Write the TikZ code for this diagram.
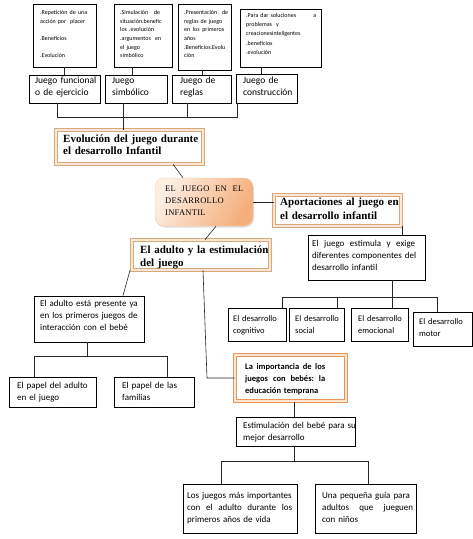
\documentclass[tikz,border=0pt]{standalone}
\usepackage{fontspec}
\setmainfont{Carlito}
\newfontfamily\serifb{Liberation Serif}
\newfontfamily\serifsp[LetterSpace=3]{Liberation Serif}
\usetikzlibrary{shadows}
\definecolor{tanc}{RGB}{214,168,122}
\definecolor{band}{RGB}{251,231,211}
\definecolor{orng}{RGB}{226,150,92}
\definecolor{ctop}{RGB}{253,238,226}
\definecolor{cbot}{RGB}{245,174,124}
\newcommand\jus[2]{\leavevmode\hbox to #1pt{#2}}
\begin{document}
\begin{tikzpicture}[x=1pt,y=-1pt,
  box/.style={draw=black, line width=0.7pt, fill=white, inner sep=0pt, rectangle},
  tbox/.style={draw=tanc, double=band, double distance=2.4pt, line width=0.6pt, fill=white, inner sep=0pt, rectangle},
  ibox/.style={draw=orng, double=band, double distance=2pt, line width=1pt, fill=white, inner sep=0pt, rectangle},
  conn/.style={draw=black!85, line width=0.6pt},
  txt/.style={inner sep=0pt, anchor=north west, align=left},
  smalltxt/.style={txt, font=\fontsize{6}{8.7}\selectfont},
  midtxt/.style={txt, font=\fontsize{9.5}{12}\selectfont},
  nrmtxt/.style={txt, font=\fontsize{9}{12}\selectfont},
  devtxt/.style={txt, font=\fontsize{8.5}{12}\selectfont},
  ttltxt/.style={txt, font=\serifb\bfseries\fontsize{11}{13}\selectfont},
]
\useasboundingbox (0,0) rectangle (473,539);
\fill[white] (0,0) rectangle (473,539);

% top detail boxes
\node[box, minimum width=63, minimum height=63] (d1) at (64.5,35.5) {};
\node[box, minimum width=58, minimum height=63] (d2) at (143,35.5) {};
\node[box, minimum width=53, minimum height=66] (d3) at (204.5,37) {};
\node[box, minimum width=81, minimum height=58] (d4) at (280.5,38) {};
% game type boxes
\node[box, minimum width=71, minimum height=28] (jA) at (64.5,89) {};
\node[box, minimum width=62, minimum height=28] (jB) at (136,89) {};
\node[box, minimum width=59, minimum height=28] (jC) at (201.5,89) {};
\node[box, minimum width=61, minimum height=29] (jD) at (266.5,88.5) {};
% titles and center
\node[tbox, minimum width=147, minimum height=34] (T1) at (129.5,147) {};
\node[draw=cbot!60, line width=0.4pt, rounded corners=9pt, minimum width=98, minimum height=48, inner sep=0pt,
      left color=ctop, right color=cbot, shading angle=60,
      drop shadow={opacity=0.25, fill=black!50, shadow xshift=1pt, shadow yshift=-1.5pt}] (C0) at (204,202) {};
\node[tbox, minimum width=127, minimum height=31] (T2) at (337.5,210.5) {};
\node[tbox, minimum width=138, minimum height=30] (T3) at (201,255) {};
% right branch
\node[box, minimum width=117, minimum height=45] (E1) at (366.5,257.5) {};
\node[box, minimum width=58, minimum height=33] (cog) at (257,324.5) {};
\node[box, minimum width=55, minimum height=33] (soc) at (316.5,324.5) {};
\node[box, minimum width=57, minimum height=33] (emo) at (379.5,324.5) {};
\node[box, minimum width=59, minimum height=34] (mot) at (442.5,329) {};
% left branch
\node[box, minimum width=110, minimum height=46] (AD) at (89,319) {};
\node[box, minimum width=87, minimum height=30] (P1) at (52.5,392) {};
\node[box, minimum width=80, minimum height=30] (P2) at (154,392) {};
% bottom branch
\node[ibox, minimum width=111, minimum height=46] (I) at (290.5,378) {};
\node[box, minimum width=119, minimum height=29] (ES) at (295.5,431.5) {};
\node[box, minimum width=114, minimum height=49] (L1) at (240,508.5) {};
\node[box, minimum width=101, minimum height=49] (L2) at (365.5,508.5) {};

% junction coordinates
\coordinate (busL) at (57,117);
\coordinate (busM) at (123,117);
\coordinate (busC) at (187,117);
\coordinate (busR) at (237,117);
\coordinate (devL) at (282,297);
\coordinate (devS) at (337,297);
\coordinate (devE) at (392,297);
\coordinate (devR) at (437,297);
\coordinate (papL) at (34,356);
\coordinate (papM) at (87,356);
\coordinate (papR) at (167,356);
\coordinate (impK) at (207,378);
\coordinate (losL) at (221,461);
\coordinate (losM) at (294,461);
\coordinate (losR) at (368,461);

% connectors
\draw[conn] (d1.south) -- (jA.north);
\draw[conn] (132,0 |- d2.south) -- (132,0 |- jB.north);
\draw[conn] (202,0 |- d3.south) -- (202,0 |- jC.north);
\draw[conn] (261,0 |- d4.south) -- (261,0 |- jD.north);
\draw[conn] (busL |- jA.south) -- (busL) -- (busR) -- (busR |- jD.south);
\draw[conn] (busC |- jC.south) -- (busC);
\draw[conn] (busM |- jB.south) -- (busM |- T1.north);
\draw[conn] (173,0 |- T1.south) -- (183,0 |- C0.north);
\draw[conn] (C0.east) -- (C0.east -| T2.west);
\draw[conn] (216,0 |- C0.south) -- (205,0 |- T3.north);
\draw[conn] (402,0 |- T2.south) -- (402,0 |- E1.north);
\draw[conn] (devE |- E1.south) -- (devE |- emo.north);
\draw[conn] (devL |- cog.north) -- (devL) -- (devR) -- (devR |- mot.north);
\draw[conn] (devS) -- (devS |- soc.north);
\draw[conn] (130,0 |- T3.south) -- (123,0 |- AD.north);
\draw[conn] (papM |- AD.south) -- (papM);
\draw[conn] (papL |- P1.north) -- (papL) -- (papR) -- (papR |- P2.north);
\draw[conn] (203,0 |- T3.south) -- (impK) -- (impK -| I.west);
\draw[conn] (294,0 |- I.south) -- (294,0 |- ES.north);
\draw[conn] (losM |- ES.south) -- (losM);
\draw[conn] (losL |- L1.north) -- (losL) -- (losR) -- (losR |- L2.north);

% texts
\node[smalltxt, text width=70] (d1t) at (40,10) {\jus{47}{.Repetición\hfill de\hfill una}\\ acción por\ \ placer\\[8.7pt] .Beneficios\\[8.7pt] .Evolución};
\node[smalltxt, text width=60] (d2t) at (120,10) {\jus{40}{.Simulación\hfill de}\\ situación.benefic\\ los .evolución\\ \jus{41}{.argumentos\hfill en}\\ el juego\\ simbólico};
\node[smalltxt, text width=60] (d3t) at (184,10) {\jus{44}{.Presentación\hfill de}\\ reglas de juego\\ \jus{40}{en\hfill los\hfill primeros}\\ años\\ .Beneficios.Evolu\\ ción};
\node[smalltxt, text width=90, font=\fontsize{6}{9.3}\selectfont] (d4t) at (246,13) {\jus{70}{.Para dar soluciones\hfill a}\\ problemas\ \ y\\ creacionesinteligentes\\ .beneficios\\ .evolución};

\node[midtxt, text width=90] (jAt) at (35,77) {Juego funcional\\ o de ejercicio};
\node[midtxt, text width=80] (jBt) at (112,77) {Juego\\ simbólico};
\node[midtxt, text width=80] (jCt) at (180,77) {Juego de\\ reglas};
\node[midtxt, text width=80] (jDt) at (243,77) {Juego de\\ construcción};

\node[ttltxt, text width=170, font=\serifb\bfseries\fontsize{11}{12.5}\selectfont] (T1t) at (63,134.5) {Evolución del juego durante\\ el desarrollo Infantil};
\node[txt, text width=100, font=\serifsp\fontsize{8.5}{12}\selectfont] (C0t) at (165,185.7) {\jus{78}{EL\hfill JUEGO\hfill EN\hfill EL}\\ DESARROLLO\\ INFANTIL};
\node[ttltxt, text width=150, font=\serifb\bfseries\fontsize{11}{14}\selectfont] (T2t) at (280,197.5) {Aportaciones al juego en\\ el desarrollo infantil};
\node[ttltxt, text width=160] (T3t) at (140,245.5) {El adulto y la estimulación\\ del juego};

\node[nrmtxt, text width=140] (E1t) at (312,240.5) {\jus{103}{El\hfill juego\hfill estimula\hfill y\hfill exige}\\ diferentes componentes del\\ desarrollo infantil};
\node[devtxt, text width=70] (cogt) at (233,315.7) {El desarrollo\\ cognitivo};
\node[devtxt, text width=70] (soct) at (295,315.7) {El desarrollo\\ social};
\node[devtxt, text width=70] (emot) at (358,315.7) {El desarrollo\\ emocional};
\node[devtxt, text width=70] (mott) at (419,318.7) {El desarrollo\\ motor};

\node[nrmtxt, text width=140] (ADt) at (40,300.5) {El adulto está presente ya\\ en los primeros juegos de\\ interacción con el bebé};
\node[nrmtxt, text width=100] (P1t) at (17,382.5) {El papel del adulto\\ en el juego};
\node[nrmtxt, text width=100] (P2t) at (122,382.5) {El papel de las\\ familias};

\node[txt, text width=110, font=\bfseries\fontsize{8.5}{12}\selectfont] (It) at (245,363) {\jus{80}{La\hfill importancia\hfill de\hfill los}\\ \jus{80}{juegos\hfill con\hfill bebés:\hfill la}\\ educación temprana};
\node[nrmtxt, text width=140] (ESt) at (243,422.5) {Estimulación del bebé para su\\ mejor desarrollo};
\node[nrmtxt, text width=140] (L1t) at (187,492.5) {Los juegos más importantes\\ \jus{105}{con\hfill el\hfill adulto\hfill durante\hfill los}\\ primeros años de vida};
\node[nrmtxt, text width=120] (L2t) at (322,492.5) {Una pequeña guía para\\ \jus{91}{adultos\hfill que\hfill jueguen}\\ con niños};
\end{tikzpicture}
\end{document}
